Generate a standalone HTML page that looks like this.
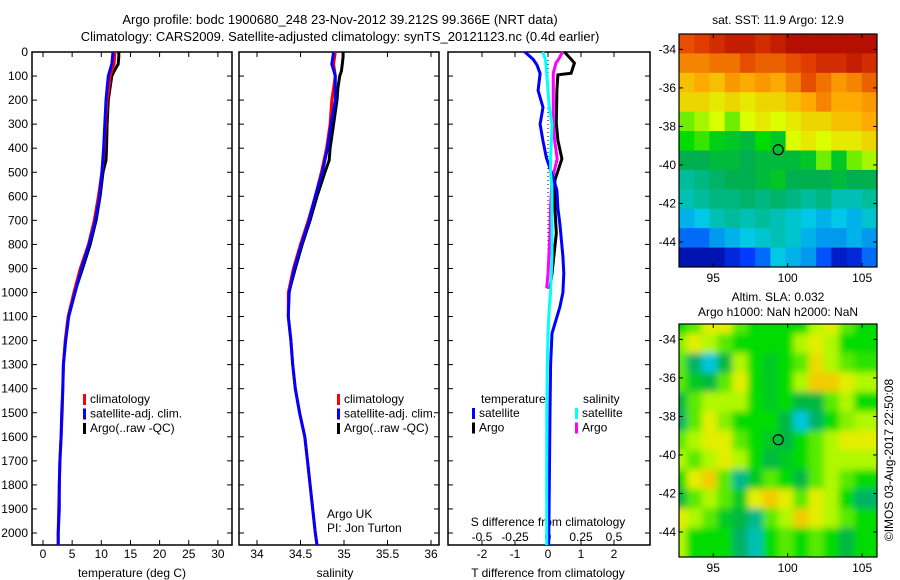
<!DOCTYPE html>
<html><head><meta charset="utf-8"><style>
body{margin:0;background:#fff;}
svg{display:block;font-family:"Liberation Sans",sans-serif;}
text{fill:#000;}
</style></head><body>
<svg id="c" width="900" height="580" viewBox="0 0 900 580" xmlns="http://www.w3.org/2000/svg">
<text x="340" y="24" font-size="13" text-anchor="middle">Argo profile: bodc 1900680_248 23-Nov-2012 39.212S 99.366E (NRT data)</text>
<text x="340" y="41" font-size="13" text-anchor="middle">Climatology: CARS2009. Satellite-adjusted climatology: synTS_20121123.nc (0.4d earlier)</text>
<g id="g"></g>
</svg>
<script>
// ---- profile data ----
const climDepths=[0,50,100,150,200,300,400,500,600,700,800,900,1000,1100,1200,1300,1400,1500,1600,1700,1800,1900,2000,2050];
const tClim=[12.35,12.2,11.5,11.3,11.0,10.7,10.5,10.1,9.5,8.8,7.8,6.4,5.3,4.3,3.8,3.5,3.4,3.3,3.1,2.9,2.8,2.7,2.6,2.6];
const tSat=[12.0,11.8,11.2,11.0,10.8,10.6,10.4,10.1,9.7,9.0,7.9,6.6,5.5,4.4,3.9,3.5,3.4,3.2,3.1,2.9,2.8,2.8,2.6,2.6];
const sClim=[34.9,34.88,34.9,34.88,34.86,34.84,34.80,34.74,34.67,34.59,34.5,34.42,34.36,34.36,34.39,34.41,34.44,34.49,34.55,34.58,34.61,34.64,34.67,34.69];
const sSat=[34.88,34.86,34.9,34.9,34.9,34.85,34.81,34.75,34.67,34.6,34.51,34.43,34.37,34.36,34.39,34.41,34.44,34.49,34.55,34.58,34.61,34.64,34.67,34.69];
const argoDepths=[0,20,50,80,100,150,200,300,400,450,500,600,700,800,900,980];
const tArgo=[13.0,13.0,12.9,12.2,11.8,11.5,11.2,11.0,10.9,10.8,10.3,9.8,9.1,8.1,6.8,5.7];
const sArgo=[34.99,34.99,34.98,34.97,34.95,34.93,34.92,34.88,34.84,34.83,34.78,34.69,34.61,34.52,34.44,34.38];
const diffDepths=[0,30,55,90,160,230,300,370,440,500,575,650,715,850,920,1000,1060,1170,1300,1500,1800,2050];
const dTSat=[-0.7,-0.45,-0.33,-0.24,-0.3,-0.15,-0.24,-0.15,-0.05,0.1,0.27,0.3,0.36,0.45,0.48,0.45,0.36,0.12,0.08,0.06,0.04,0.02];
const dSSat=[-0.04,-0.02,-0.015,-0.01,0,0.01,0.03,0.025,0.02,0.02,0.03,0.03,0.03,0.03,0.025,0.02,0.01,0,-0.005,-0.01,-0.01,-0.01];
const argoDiffDepths=[0,30,46,88,95,158,296,367,444,533,644,754,921,983];
const dTArgo=[0.5,0.7,0.8,0.7,0.3,0.27,0.25,0.3,0.42,0.21,0.21,0.25,0.12,0.06];
const dSArgo=[0.11,0.08,0.06,0.04,0.04,0.04,0.04,0.05,0.07,0.03,0.02,0.015,0.0,-0.01];
const depthTicks=[0,100,200,300,400,500,600,700,800,900,1000,1100,1200,1300,1400,1500,1600,1700,1800,1900,2000];
const tTicks=[0,5,10,15,20,25,30];
const sTicks=[34,34.5,35,35.5,36];
const dTTicks=[-2,-1,0,1,2];
const dSTicks=[-0.5,-0.25,0,0.25,0.5];
const dSTickLabels=["-0.5","-0.25","0","0.25","0.5"];
// ---- map data ----
const mapLonTicks=[95,100,105];
const mapLatTicks=[-34,-36,-38,-40,-42,-44];
const sstGrid=[
[15.0,15.2,15.4,15.6,15.6,15.4,15.6,15.8,15.8,15.8,15.8,15.8,15.8],
[14.4,14.4,14.6,14.6,15.0,14.8,14.8,15.0,15.2,15.4,15.4,15.6,15.4],
[13.8,14.0,13.8,14.2,14.0,14.2,14.0,14.4,15.0,14.6,14.2,14.4,14.8],
[13.6,13.6,13.4,13.6,13.4,13.6,13.6,13.8,14.0,14.4,14.0,14.0,14.2],
[12.8,13.0,13.2,12.8,13.2,13.4,13.2,13.4,13.6,13.6,13.8,13.8,14.0],
[12.4,12.6,12.2,12.0,11.8,12.4,12.0,13.2,13.4,13.2,13.4,13.4,13.6],
[11.6,11.6,11.8,11.8,11.6,11.8,11.8,11.8,12.0,12.8,12.0,12.8,13.0],
[11.0,11.2,11.4,11.6,11.6,11.8,12.0,11.6,11.6,11.6,11.8,11.6,11.6],
[10.8,11.0,11.2,11.2,11.4,11.2,11.4,11.2,11.0,11.2,10.8,10.8,11.0],
[10.2,10.4,10.8,11.0,10.8,11.0,10.8,10.6,10.4,10.2,10.4,10.2,10.6],
[9.6,9.6,10.0,10.2,10.4,10.6,10.8,10.6,10.2,10.0,10.0,10.2,10.0],
[8.4,8.4,8.4,8.8,9.2,9.6,10.4,10.2,10.0,9.4,8.6,8.8,9.6]];
const slaGrid=[
[0,0.02,0.06,0.06,0.02,0,0,0,0,0.04,0.06,0.02,0],
[0.03,0.06,0.04,0.02,0,0,0,0,0.04,0.06,0.04,0,0],
[0.02,-0.06,-0.12,-0.04,0.04,0,-0.02,0,0.02,0.07,0.04,0.02,0.01],
[0.02,-0.02,-0.04,0.02,0.06,0,-0.02,0,0.04,0.08,0.08,0.06,0.04],
[-0.04,0.02,0.04,0.04,0.04,0,-0.02,0,-0.04,-0.04,0.02,0.04,0],
[-0.06,0.02,0.06,0.03,0,0,0,-0.04,-0.12,-0.06,0,0.03,0.04],
[0.02,0.04,0.06,0.06,0.02,0,-0.02,-0.04,0,0.02,0.04,0.06,0.06],
[0.04,0.02,0.04,0.06,0.04,0,-0.04,-0.02,0,0.02,0.04,0.04,0.04],
[0,0.06,0.08,0.02,-0.08,-0.02,0.02,0,-0.04,0.02,0.04,0.02,0],
[-0.04,0.02,0.04,0.02,-0.02,0.06,0.08,0.06,0.02,0.06,0.04,0,-0.06],
[0.06,0.04,0.02,-0.02,-0.04,-0.08,0.02,0.04,0.08,0.06,0.04,0.02,0],
[0.04,0,0,0,-0.06,-0.1,0,0.02,0,0.02,0,-0.04,0]];
const argoLon=99.366, argoLat=-39.212;

const NS="http://www.w3.org/2000/svg";
const G=document.getElementById('g');
function el(tag,attrs,parent){const e=document.createElementNS(NS,tag);for(const k in attrs)e.setAttribute(k,attrs[k]);(parent||G).appendChild(e);return e;}
function txt(x,y,s,size,anchor,parent){const t=el('text',{x:x,y:y,'font-size':size,'text-anchor':anchor||'middle'},parent);t.textContent=s;return t;}

const TOP=52,BOT=545;
const yD=d=>TOP+d*0.2405;
function panel(x0,x1,name){
  const r=el('rect',{x:x0,y:TOP,width:x1-x0,height:BOT-TOP,fill:'none',stroke:'#000','stroke-width':1.5});
  
  
  depthTicks.forEach(d=>{el('line',{x1:x0,x2:x0+5,y1:yD(d),y2:yD(d),stroke:'#000'});el('line',{x1:x1-5,x2:x1,y1:yD(d),y2:yD(d),stroke:'#000'});});
}
function line(xs,ds,fx,color,name,w){
  const pts=xs.map((v,i)=>fx(v).toFixed(1)+','+yD(ds[i]).toFixed(1)).join(' ');
  const p=el('polyline',{points:pts,fill:'none',stroke:color,'stroke-width':w||3,'stroke-linejoin':'miter'});
  
  
}
depthTicks.forEach(d=>{txt(28,yD(d)+4,String(d),12,'end');});

// Panel 1 temperature
const xT=v=>43+v*5.83;
panel(32,232,'temperature-panel');
tTicks.forEach(v=>{el('line',{x1:xT(v),x2:xT(v),y1:BOT,y2:BOT-5,stroke:'#000'});el('line',{x1:xT(v),x2:xT(v),y1:TOP,y2:TOP+5,stroke:'#000'});txt(xT(v),558,String(v),12);});
txt(132,577,'temperature (deg C)',12);
line(tArgo,argoDepths,xT,'#000','temperature-argo-line');
line(tClim,climDepths,xT,'#f00','temperature-climatology-line');
line(tSat,climDepths,xT,'#00f','temperature-satellite-line');
function legend(x,y,items,name){
  items.forEach((it,i)=>{el('rect',{x:x,y:y+i*14.5-9,width:3,height:11,fill:it[1]});const t=txt(x+7,y+i*14.5,it[0],12,'start');});
}
legend(83,403,[['climatology','#f00'],['satellite-adj. clim.','#00f'],['Argo(..raw -QC)','#000']],'temperature-legend');

// Panel 2 salinity
const xS=v=>257+(v-34)*87;
panel(239,439,'salinity-panel');
sTicks.forEach(v=>{el('line',{x1:xS(v),x2:xS(v),y1:BOT,y2:BOT-5,stroke:'#000'});el('line',{x1:xS(v),x2:xS(v),y1:TOP,y2:TOP+5,stroke:'#000'});txt(xS(v),558,String(v),12);});
txt(335,577,'salinity',12);
line(sArgo,argoDepths,xS,'#000','salinity-argo-line');
line(sClim,climDepths,xS,'#f00','salinity-climatology-line');
line(sSat,climDepths,xS,'#00f','salinity-satellite-line');
legend(337,403,[['climatology','#f00'],['satellite-adj. clim.','#00f'],['Argo(..raw -QC)','#000']],'salinity-legend');
txt(327,518,'Argo UK',12,'start');
txt(327,532,'PI: Jon Turton',12,'start');

// Panel 3 differences
const xDT=v=>548+v*33;
const xDS=v=>548+v*132;
panel(448,650,'difference-panel');
dTTicks.forEach(v=>{el('line',{x1:xDT(v),x2:xDT(v),y1:BOT,y2:BOT-5,stroke:'#000'});txt(xDT(v),558,String(v),12);});
dSTicks.forEach((v,i)=>{el('line',{x1:xDS(v),x2:xDS(v),y1:TOP,y2:TOP+5,stroke:'#000'});txt(xDS(v),541,dSTickLabels[i],12);});
txt(548,526,'S difference from climatology',12);
txt(548,577,'T difference from climatology',12);
el('line',{x1:xDT(0),x2:xDT(0),y1:TOP,y2:yD(990),stroke:'#000','stroke-dasharray':'1,3'});
line(dTArgo,argoDiffDepths,xDT,'#000','t-diff-argo-line');
line(dSArgo,argoDiffDepths,xDS,'#f0f','s-diff-argo-line');
line(dTSat,diffDepths,xDT,'#00f','t-diff-satellite-line');
line(dSSat,diffDepths,xDS,'#0ff','s-diff-satellite-line');
txt(481,403,'temperature',12,'start');
legend(472,417,[['satellite','#00f'],['Argo','#000']],'t-diff-legend');
txt(583,403,'salinity',12,'start');
legend(575,417,[['satellite','#0ff'],['Argo','#f0f']],'s-diff-legend');

// maps
const stops=[[0,[0,0,140]],[0.15,[0,60,255]],[0.3,[0,200,230]],[0.45,[0,175,80]],[0.55,[0,220,0]],[0.65,[220,255,0]],[0.75,[255,170,0]],[0.9,[225,60,0]],[1,[165,0,0]]];
function cmap(n){n=Math.max(0,Math.min(1,n));for(let i=1;i<stops.length;i++){if(n<=stops[i][0]){const a=stops[i-1],b=stops[i];const f=(n-a[0])/(b[0]-a[0]);return 'rgb('+a[1].map((c,k)=>Math.round(c+(b[1][k]-c)*f)).join(',')+')';}}return 'rgb(165,0,0)';}
function drawMap(x0,x1,y0,y1,grid,norm,name,smooth){
  const lonMin=92.7,lonMax=106.0,latMax=-33.2,latMin=-45.3;
  const xL=v=>x0+(v-lonMin)/(lonMax-lonMin)*(x1-x0);
  const yL=v=>y0+(latMax-v)/(latMax-latMin)*(y1-y0);
  const g=el('g',{});
  
  
  const cp=el('clipPath',{id:name+'-clip'},g);el('rect',{x:x0,y:y0,width:x1-x0,height:y1-y0},cp);
  const inner=el('g',{'clip-path':'url(#'+name+'-clip)'},g);
  const inner2=el('g',smooth?{filter:'url(#blur)'}:{},inner);
  const rows=grid.length,cols=grid[0].length;
  const cw=(x1-x0)/cols,ch=(y1-y0)/rows;
  grid.forEach((row,r)=>row.forEach((v,c)=>{el('rect',{x:x0+c*cw-(smooth?cw/2:0),y:y0+r*ch-(smooth?ch/2:0),width:cw+(smooth?cw:0.6),height:ch+(smooth?ch:0.6),fill:cmap(norm(v))},inner2);}));
  el('rect',{x:x0,y:y0,width:x1-x0,height:y1-y0,fill:'none',stroke:'#000','stroke-width':1.2},g);
  mapLonTicks.forEach(v=>{el('line',{x1:xL(v),x2:xL(v),y1:y1,y2:y1-4,stroke:'#000'},g);el('line',{x1:xL(v),x2:xL(v),y1:y0,y2:y0+4,stroke:'#000'},g);txt(xL(v),y1+15,String(v),12,'middle',g);});
  mapLatTicks.forEach(v=>{el('line',{x1:x0,x2:x0+4,y1:yL(v),y2:yL(v),stroke:'#000'},g);el('line',{x1:x1,x2:x1-4,y1:yL(v),y2:yL(v),stroke:'#000'},g);txt(x0-3,yL(v)+4,String(v),12,'end',g);});
  const c=el('circle',{cx:xL(argoLon),cy:yL(argoLat),r:5,fill:'none',stroke:'#000','stroke-width':1.2},g);
  
  
}
const defs=el('defs',{});
const f=el('filter',{id:'blur',x:'-10%',y:'-10%',width:'120%',height:'120%'},defs);
el('feGaussianBlur',{stdDeviation:'3.5'},f);
drawMap(679,877,34,267,sstGrid,v=>(v-8)/8,'sst-map',false);
drawMap(679,877,324,557,slaGrid,v=>0.55+v*2,'sla-map',true);
txt(778,24,'sat. SST: 11.9 Argo: 12.9',12);
txt(778,301,'Altim. SLA: 0.032',12);
txt(778,316,'Argo h1000: NaN h2000: NaN',12);
const cr=txt(0,0,'©IMOS 03-Aug-2017 22:50:08',12);
cr.setAttribute('transform','translate(893,460) rotate(-90)');


</script>
</body></html>
